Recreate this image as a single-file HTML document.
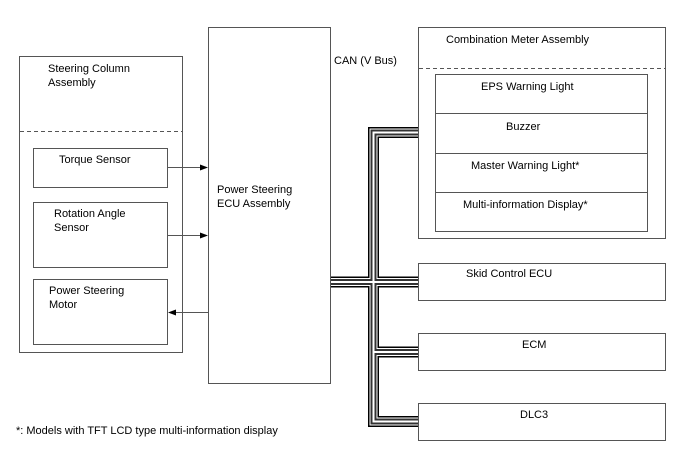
<!DOCTYPE html>
<html><head><meta charset="utf-8"><style>
html,body{margin:0;padding:0;background:#fff;}
svg{display:block;}
text{font-family:"Liberation Sans",Arial,sans-serif;font-size:11px;fill:#000;}
</style></head><body>
<svg width="688" height="463" viewBox="0 0 688 463" xmlns="http://www.w3.org/2000/svg">
<g fill="none" stroke="#555" stroke-width="1">
<rect x="19.5" y="56.5" width="163" height="296"/>
<line x1="20" y1="131.5" x2="182" y2="131.5" stroke-dasharray="4,3"/>
<rect x="33.5" y="148.5" width="134" height="39"/>
<rect x="33.5" y="202.5" width="134" height="65"/>
<rect x="33.5" y="279.5" width="134" height="65"/>
<rect x="208.5" y="27.5" width="122" height="356"/>
<rect x="418.5" y="27.5" width="247" height="211"/>
<line x1="419" y1="68.5" x2="665" y2="68.5" stroke-dasharray="4,3"/>
<rect x="435.5" y="74.5" width="212" height="157"/>
<line x1="436" y1="113.5" x2="647" y2="113.5"/>
<line x1="436" y1="153.5" x2="647" y2="153.5"/>
<line x1="436" y1="192.5" x2="647" y2="192.5"/>
<rect x="418.5" y="263.5" width="247" height="37"/>
<rect x="418.5" y="333.5" width="247" height="37"/>
<rect x="418.5" y="403.5" width="247" height="37"/>
<line x1="167" y1="167.5" x2="202" y2="167.5"/>
<line x1="167" y1="235.5" x2="202" y2="235.5"/>
<line x1="174" y1="312.5" x2="208" y2="312.5"/>
</g>
<g fill="#000">
<polygon points="208,167.5 200,164.5 200,170.5"/>
<polygon points="208,235.5 200,232.5 200,238.5"/>
<polygon points="168,312.5 176,309.5 176,315.5"/>
</g>
<g fill="none" stroke-linejoin="miter" stroke-linecap="butt">
<g id="bus">
<path d="M418,132.5 H373.5 V421.5 H418 M331,282 H418 M373.5,352 H418"/>
</g>
<use href="#bus" stroke="#000" stroke-width="11"/>
<use href="#bus" stroke="#fff" stroke-width="8"/>
<use href="#bus" stroke="#333" stroke-width="6"/>
<use href="#bus" stroke="#fff" stroke-width="2"/>
</g>
<rect x="418" y="120" width="1" height="20" fill="#555"/>
<text x="48" y="72">Steering Column</text>
<text x="48" y="86">Assembly</text>
<text x="59" y="163">Torque Sensor</text>
<text x="54" y="217">Rotation Angle</text>
<text x="54" y="231">Sensor</text>
<text x="49" y="294">Power Steering</text>
<text x="49" y="308">Motor</text>
<text x="217" y="193">Power Steering</text>
<text x="217" y="207">ECU Assembly</text>
<text x="334" y="64">CAN (V Bus)</text>
<text x="446" y="43">Combination Meter Assembly</text>
<text x="481" y="90">EPS Warning Light</text>
<text x="506" y="130">Buzzer</text>
<text x="471" y="169">Master Warning Light*</text>
<text x="463" y="208">Multi-information Display*</text>
<text x="466" y="277">Skid Control ECU</text>
<text x="522" y="348">ECM</text>
<text x="520" y="418">DLC3</text>
<text x="16" y="434">*: Models with TFT LCD type multi-information display</text>
</svg>
</body></html>
